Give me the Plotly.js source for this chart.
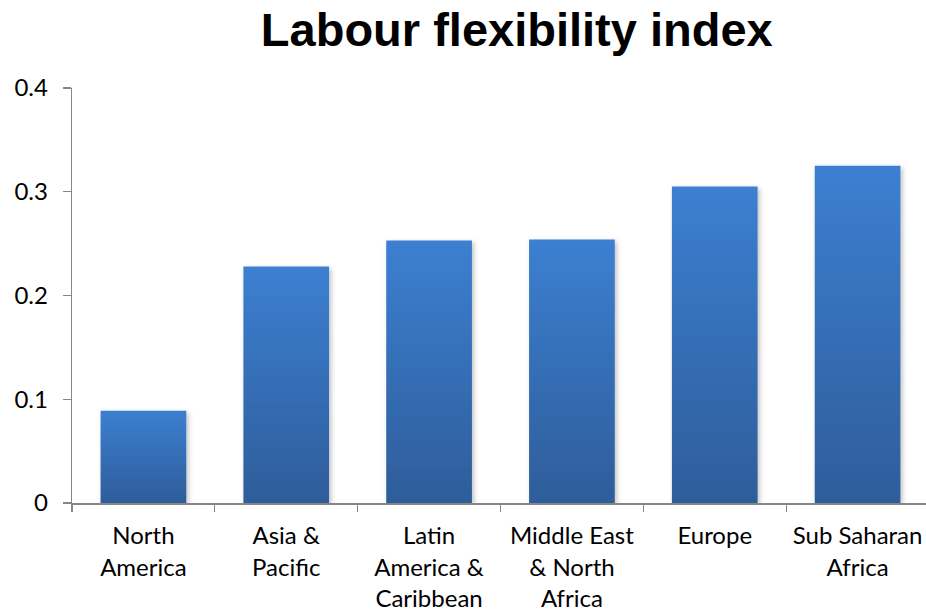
<!DOCTYPE html>
<html>
<head>
<meta charset="utf-8">
<script src="https://cdn.plot.ly/plotly-3.0.1.min.js"></script>
<style>
html,body{margin:0;padding:0;overflow:hidden;background:#fff;}
#chart{width:931px;height:613px;}
</style>
</head>
<body>
<div id="chart"></div>
<script>
const categories = ["North<br>America", "Asia &<br>Pacific", "Latin<br>America &<br>Caribbean", "Middle East<br>& North<br>Africa", "Europe", "Sub Saharan<br>Africa"];
const values = [0.089, 0.228, 0.253, 0.254, 0.305, 0.325];
const yTicks = [0, 0.1, 0.2, 0.3, 0.4];

const trace = {
  type: 'bar',
  x: categories,
  y: values,
  width: 0.6,
  marker: {color: '#3670bb', line: {width: 0}},
  hoverinfo: 'none'
};

const layout = {
  width: 931, height: 613,
  margin: {l: 72, r: 2, t: 88, b: 110},
  paper_bgcolor: '#fff', plot_bgcolor: '#fff',
  showlegend: false,
  bargap: 0.4,
  title: {
    text: '<b>Labour flexibility index</b>',
    font: {family: 'Liberation Sans, Arial, sans-serif', size: 47, color: '#000'},
    x: 0.519, xref: 'paper', xanchor: 'center',
    y: 0.951, yref: 'container', yanchor: 'middle'
  },
  xaxis: {
    type: 'category',
    tickson: 'boundaries',
    ticks: 'outside', ticklen: 7, tickwidth: 1.3, tickcolor: '#868686',
    showline: true, linecolor: '#868686', linewidth: 1.5,
    showgrid: false, zeroline: false,
    tickfont: {family: 'Lato, Open Sans, sans-serif', size: 24, color: '#000'},
    ticklabelstandoff: 11,
    range: [-0.5, 5.5]
  },
  yaxis: {
    range: [0, 0.4],
    tickvals: yTicks,
    ticktext: yTicks.map(v => v === 0 ? '0' : String(v)),
    ticks: 'outside', ticklen: 8, tickwidth: 1.3, tickcolor: '#868686',
    showline: true, linecolor: '#868686', linewidth: 1.3,
    showgrid: false, zeroline: false,
    tickfont: {family: 'Lato, Open Sans, sans-serif', size: 24, color: '#000'},
    ticklabelstandoff: 10
  }
};

Plotly.newPlot('chart', [trace], layout, {displayModeBar: false, staticPlot: true}).then(function(gd){
  const svg = gd.querySelector('svg.main-svg');
  const ns = 'http://www.w3.org/2000/svg';
  let defs = svg.querySelector('defs');
  if (!defs) { defs = document.createElementNS(ns, 'defs'); svg.insertBefore(defs, svg.firstChild); }
  const grad = document.createElementNS(ns, 'linearGradient');
  grad.setAttribute('id', 'barGrad');
  grad.setAttribute('x1', '0'); grad.setAttribute('y1', '0');
  grad.setAttribute('x2', '0'); grad.setAttribute('y2', '1');
  [['0', '#3c7fd1'], ['1', '#2e5d9a']].forEach(function(s){
    const st = document.createElementNS(ns, 'stop');
    st.setAttribute('offset', s[0]); st.setAttribute('stop-color', s[1]);
    grad.appendChild(st);
  });
  defs.appendChild(grad);
  const filt = document.createElementNS(ns, 'filter');
  filt.setAttribute('id', 'barShadow');
  filt.setAttribute('x', '-20%'); filt.setAttribute('y', '-20%');
  filt.setAttribute('width', '140%'); filt.setAttribute('height', '140%');
  filt.innerHTML = '<feDropShadow dx="2" dy="2" stdDeviation="2.5" flood-color="#000" flood-opacity="0.25"/>';
  defs.appendChild(filt);
  gd.querySelectorAll('.bars .point path').forEach(function(p){
    p.style.fill = 'url(#barGrad)';
    p.setAttribute('filter', 'url(#barShadow)');
  });
});
</script>
</body>
</html>
